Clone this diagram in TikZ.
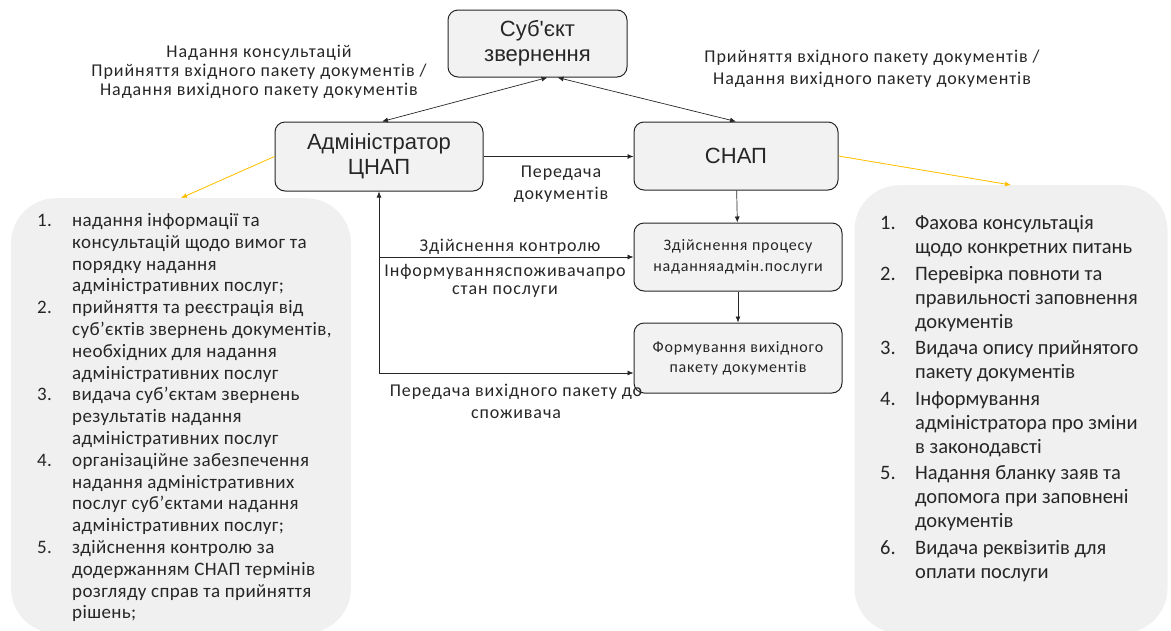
\documentclass[tikz,border=0pt]{standalone}
\usepackage{fontspec}
\setmainfont{Carlito}
\newfontfamily\boxfont{Liberation Sans}
\newfontfamily\lblfont{Carlito}[LetterSpace=5]
\newfontfamily\listfont{Carlito}[LetterSpace=2]
\usetikzlibrary{arrows.meta,positioning,calc}
\definecolor{boxfill}{HTML}{F2F2F2}
\definecolor{panelfill}{HTML}{F0F0F0}
\definecolor{linegray}{HTML}{262626}
\definecolor{officegold}{HTML}{FFC000}

\begin{document}
\begin{tikzpicture}[x=1pt,y=-1pt,
    mainbox/.style={rectangle, rounded corners=10pt, draw=linegray, line width=1pt, fill=boxfill,
                    align=center, text=linegray, font=\boxfont\fontsize{22}{25}\selectfont},
    stepbox/.style={rectangle, rounded corners=10pt, draw=linegray, line width=1pt, fill=boxfill,
                    minimum width=208pt, minimum height=68pt, align=center, text=linegray,
                    font=\lblfont\fontsize{16}{21}\selectfont},
    panel/.style={rectangle, rounded corners=45pt, fill=panelfill, inner sep=0pt},
    lbl/.style={align=center, text=linegray, inner sep=0pt, font=\lblfont\fontsize{18}{22}\selectfont},
    link/.style={-{Latex[length=6pt,width=5pt]}, line width=0.7pt, draw=linegray},
    duallink/.style={{Latex[length=6pt,width=5pt]}-{Latex[length=6pt,width=5pt]}, line width=0.7pt, draw=linegray},
    note/.style={-{Latex[length=6pt,width=5pt]}, line width=0.8pt, draw=officegold, fill=officegold}
]
    \useasboundingbox (0,0) rectangle (1171,630);
    \clip (0,0) rectangle (1171,630);

    % side panels
    \node[panel, minimum width=340pt, minimum height=435pt, anchor=north] (adminlist) at (181,198) {};
    \node[panel, minimum width=313pt, minimum height=448pt, anchor=north] (snaplist) at (1011,185) {};

    % main boxes
    \node[mainbox, minimum width=179pt, minimum height=67pt] (subject) at (537.5,43.5) {Суб'єкт\\звернення};
    \node[mainbox, minimum width=208pt, minimum height=69pt] (admin) at (379,156.5) {Адміністратор\\ЦНАП};
    \node[mainbox, minimum width=204pt, minimum height=68pt] (snap) at (736,156) {СНАП};
    \node[stepbox] (process) at (738,257) {Здійснення процесу\\наданняадмін.послуги};
    \node[stepbox, minimum height=70pt, font=\lblfont\fontsize{16}{20}\selectfont] (outpack) at (738,358) {Формування вихідного\\пакету документів};

    % connectors
    \draw[duallink] ([xshift=3pt]admin.north) -- ([xshift=10pt]subject.south);
    \draw[duallink] (snap.north) -- ([xshift=20pt]subject.south);
    \draw[link] (admin.east) -- (admin.east -| snap.west);
    \draw[link] (snap) -- (process);
    \draw[link] (process) -- (outpack);
    \coordinate (feedin) at ([yshift=-15pt]outpack.west);
    \coordinate (corner) at (admin.south |- feedin);
    \draw[link] (corner) -- (admin.south);
    \draw[link] (corner) -- (feedin);
    \draw[link] (admin.south |- process.west) -- (process.west);
    \draw[note] (admin.west) -- (adminlist.north);
    \draw[note] (snap.east) -- (snaplist.north);

    % connector labels
    \node[lbl, font=\lblfont\fontsize{18}{19}\selectfont] (lblleft) at (259,72) {Надання консультацій\\Прийняття вхідного пакету документів /\\Надання вихідного пакету документів};
    \node[lbl] (lblright) at (872,69) {Прийняття вхідного пакету документів /\\Надання вихідного пакету документів};
    \node[lbl] (lblpass) at (561,184) {Передача\\документів};
    \node[lbl] (lblcontrol) at (510,247) {Здійснення контролю};
    \node[lbl, font=\lblfont\fontsize{18}{18.5}\selectfont] (lblinform) at (505,281) {Інформуванняспоживачапро\\стан послуги};
    \node[lbl] (lblreturn) at (516,401) {Передача вихідного пакету до\\споживача};

    % list texts
    \node[anchor=north west, inner sep=0pt, text=linegray, font=\listfont\fontsize{19}{21.8}\selectfont] (admintext) at (37,211) {%
      \begin{tabular}{@{}p{35pt}@{}l@{}}
      1. & надання інформації та\\
         & консультацій щодо вимог та\\
         & порядку надання\\
         & адміністративних послуг;\\
      2. & прийняття та реєстрація від\\
         & суб’єктів звернень документів,\\
         & необхідних для надання\\
         & адміністративних послуг\\
      3. & видача суб’єктам звернень\\
         & результатів надання\\
         & адміністративних послуг\\
      4. & організаційне забезпечення\\
         & надання адміністративних\\
         & послуг суб’єктами надання\\
         & адміністративних послуг;\\
      5. & здійснення контролю за\\
         & додержанням СНАП термінів\\
         & розгляду справ та прийняття\\
         & рішень;
      \end{tabular}};
    \node[anchor=north west, inner sep=0pt, text=linegray, font=\fontsize{20.5}{23.8}\selectfont] (snaptext) at (880,213) {%
      \begin{tabular}{@{}p{35pt}@{}l@{}}
      1. & Фахова консультація\\
         & щодо конкретних питань\\[3pt]
      2. & Перевірка повноти та\\
         & правильності заповнення\\
         & документів\\[3pt]
      3. & Видача опису прийнятого\\
         & пакету документів\\[3pt]
      4. & Інформування\\
         & адміністратора про зміни\\
         & в законодавсті\\[3pt]
      5. & Надання бланку заяв та\\
         & допомога при заповнені\\
         & документів\\[3pt]
      6. & Видача реквізитів для\\
         & оплати послуги
      \end{tabular}};
\end{tikzpicture}
\end{document}
